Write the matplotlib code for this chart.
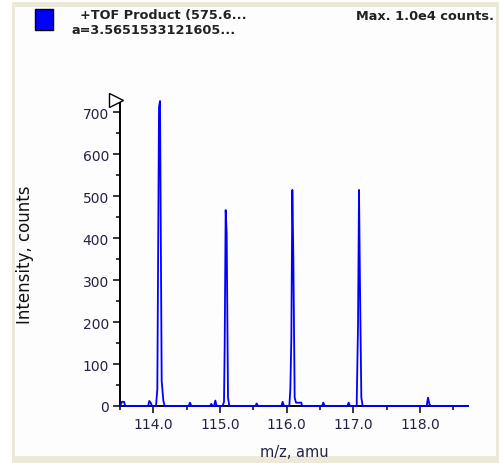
import matplotlib
matplotlib.use("Agg")
import matplotlib.pyplot as plt
from matplotlib.patches import Rectangle
from matplotlib.ticker import MultipleLocator, FormatStrFormatter

# reporter ion region of the TOF product scan
mz = [113.50, 113.53, 113.56, 113.58,
      113.92, 113.94, 113.96, 113.98,
      114.04, 114.06, 114.085, 114.10, 114.125, 114.15, 114.17,
      114.53, 114.55, 114.57,
      114.85, 114.87, 114.89, 114.91, 114.93, 114.95,
      115.04, 115.06, 115.07, 115.085, 115.10, 115.12, 115.14,
      115.53, 115.55, 115.57,
      115.92, 115.94, 115.96,
      116.04, 116.055, 116.07, 116.085, 116.10, 116.12, 116.14, 116.22, 116.23,
      116.53, 116.55, 116.57,
      116.91, 116.93, 116.95,
      117.05, 117.07, 117.085, 117.10, 117.12, 117.14,
      118.10, 118.12, 118.14, 118.16,
      118.72]
counts = [0, 10, 10, 0,
          0, 12, 8, 0,
          0, 40, 712, 727, 60, 13, 0,
          0, 8, 0,
          0, 5, 0, 0, 13, 0,
          0, 10, 140, 467, 412, 20, 0,
          0, 6, 0,
          0, 10, 0,
          0, 40, 160, 515, 357, 20, 8, 8, 0,
          0, 8, 0,
          0, 8, 0,
          0, 190, 515, 285, 20, 0,
          0, 20, 5, 0,
          0]

xticks = [114.0, 115.0, 116.0, 117.0, 118.0]
yticks = [0, 100, 200, 300, 400, 500, 600, 700]

W, H = 499, 464
fig = plt.figure(figsize=(W / 100, H / 100), dpi=100)
fig.patch.set_facecolor("white")

def fx(px):
    return px / W

def fy(py):
    return 1 - py / H

# window frame, kept behind everything else
fig.patches.append(Rectangle((fx(12), 0), fx(499 - 12), fy(3), transform=fig.transFigure,
                             facecolor="#ece9d8", edgecolor="none", zorder=-10))
fig.patches.append(Rectangle((fx(15), fy(457)), fx(496 - 15), fy(8) - fy(457),
                             transform=fig.transFigure, facecolor="#fdfdfd",
                             edgecolor="none", zorder=-9))

# legend swatch and header
fig.patches.append(Rectangle((fx(35), fy(31)), fx(18), fy(10) - fy(31), transform=fig.transFigure,
                             facecolor="#0000ff", edgecolor="black", lw=1, zorder=2))
hdr = dict(family="DejaVu Sans", weight="bold", fontsize=9.3, color="#222222", va="center")
fig.text(fx(80), fy(16), "+TOF Product (575.6...", ha="left", **hdr)
fig.text(fx(72), fy(30), "a=3.5651533121605...", ha="left", **hdr)
fig.text(fx(494), fy(16), "Max. 1.0e4 counts.", ha="right", **hdr)

ax = fig.add_axes([fx(120), fy(407), fx(468) - fx(120), fy(102) - fy(407)])
ax.set_facecolor("none")
ax.plot(mz, counts, color="#0000ff", lw=1.3, clip_on=False, zorder=3)

ax.set_xlim(113.5, 118.72)
ax.set_ylim(0, 727)
ax.set_xticks(xticks)
ax.set_yticks(yticks)
ax.xaxis.set_major_formatter(FormatStrFormatter("%.1f"))
ax.xaxis.set_minor_locator(MultipleLocator(0.5))
ax.yaxis.set_minor_locator(MultipleLocator(50))

for s in ["top", "right"]:
    ax.spines[s].set_visible(False)
for s in ["left", "bottom"]:
    ax.spines[s].set_linewidth(1.4)
    ax.spines[s].set_color("black")

ax.tick_params(which="major", length=5, width=1.1, labelsize=10, labelcolor="#222244",
               pad=3)
ax.tick_params(which="minor", length=3, width=1.1)
for lab in ax.get_xticklabels() + ax.get_yticklabels():
    lab.set_family("DejaVu Sans")

ax.set_xlabel("m/z, amu", fontsize=10.5, color="#222244", labelpad=9)
ax.set_ylabel("Intensity, counts", fontsize=12, color="#111111")
ax.yaxis.set_label_coords((34 - 120) / (468 - 120), 0.5)

# cursor marker at top of the intensity axis
ax.plot([113.5 - 4 / 66.7], [727 + 1 / 0.42], marker=">", ms=10, mfc="white", mec="black",
        mew=1, clip_on=False, zorder=4)

fig.savefig("out.png", dpi=100)
